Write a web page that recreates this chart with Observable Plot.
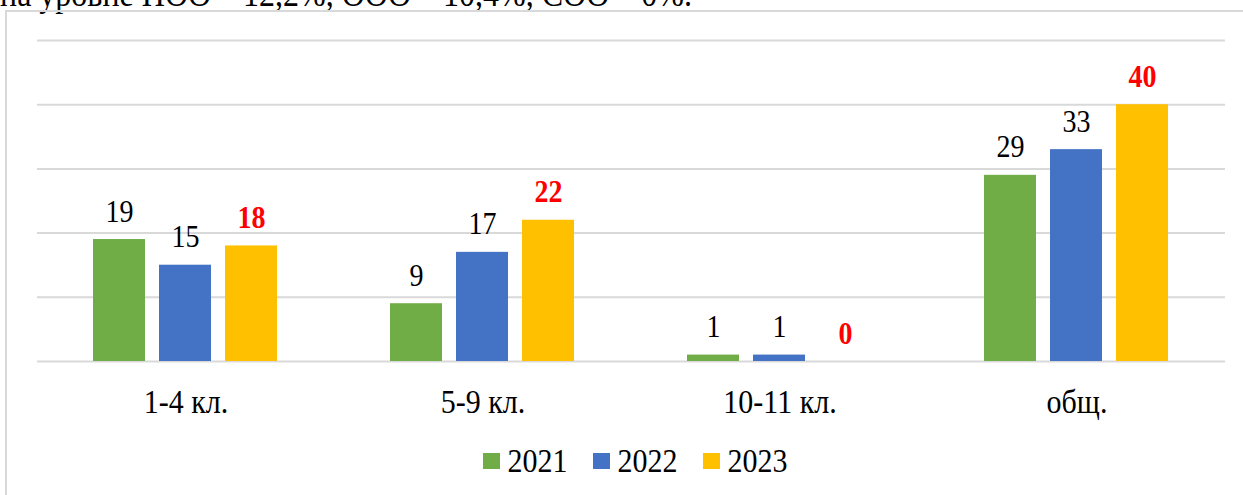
<!DOCTYPE html>
<html>
<head>
<meta charset="utf-8">
<script src="https://cdn.jsdelivr.net/npm/d3@7"></script>
<script src="https://cdn.jsdelivr.net/npm/@observablehq/plot@0.6"></script>
<style>
  html, body { margin: 0; padding: 0; background: #fff; overflow: hidden; }
  #wrap { position: relative; width: 1243px; height: 495px; overflow: hidden; font-family: "Liberation Serif", "Times New Roman", serif; }
  #lead { position: absolute; left: 0; top: -21px; font-size: 32px; line-height: 32px; white-space: nowrap; color: #000; transform: scaleY(1.14); transform-origin: 0 27px; }
  #frame { position: absolute; left: 5px; top: 10px; width: 1300px; height: 600px; border: 2px solid #d9d9d9; box-sizing: border-box; }
  #chart { position: absolute; left: 0; top: 0; }
  #legend { position: absolute; left: 0; top: 446px; width: 1270px; display: flex; justify-content: center; align-items: center; font-size: 30px; line-height: 30px; color: #000; }
  .item { display: flex; align-items: center; margin: 0 12.5px; }
  .sw { width: 17px; height: 16px; margin-right: 8px; }
  .lt { display: inline-block; transform: scaleY(1.14); }
</style>
</head>
<body>
<div id="wrap">
  <div id="lead">на уровне НОО – 12,2%, ООО – 10,4%, СОО – 0%.</div>
  <div id="frame"></div>
  <div id="chart"></div>
  <div id="legend"></div>
</div>
<script>
const categories = ["1-4 кл.", "5-9 кл.", "10-11 кл.", "общ."];
const years = ["2021", "2022", "2023"];
const values2021 = [19, 9, 1, 29];
const values2022 = [15, 17, 1, 33];
const values2023 = [18, 22, 0, 40];
const yTicks = [0, 10, 20, 30, 40, 50];
const colors = ["#70AD47", "#4472C4", "#FFC000"];
const highlightYear = "2023";

const series = [values2021, values2022, values2023];
const data = [];
categories.forEach((c, i) => {
  years.forEach((y, j) => data.push({category: c, year: y, value: series[j][i]}));
});

const chart = Plot.plot({
  width: 1243,
  height: 420,
  marginLeft: 37,
  marginRight: 18,
  marginTop: 40,
  marginBottom: 59,
  style: {fontFamily: "'Liberation Serif', 'Times New Roman', serif", color: "#000", background: "transparent"},
  fx: {domain: categories, padding: 0},
  x: {domain: years, paddingInner: 0.212, paddingOuter: 0.856, axis: null},
  y: {domain: [0, 50], axis: null},
  color: {domain: years, range: colors},
  marks: [
    Plot.ruleY(yTicks, {stroke: "#d9d9d9", strokeWidth: 2}),
    Plot.barY(data, {fx: "category", x: "year", y: "value", fill: "year"}),
    Plot.text(data.filter(d => d.year !== highlightYear), {
      fx: "category", x: "year", y: "value", text: d => String(d.value),
      lineAnchor: "bottom", dy: -18, fontSize: 28, fill: "#000"
    }),
    Plot.text(data.filter(d => d.year === highlightYear), {
      fx: "category", x: "year", y: "value", text: d => String(d.value),
      lineAnchor: "bottom", dy: -18, fontSize: 28, fontWeight: "bold", fill: "#FF0000"
    }),
    Plot.axisFx({anchor: "bottom", tickSize: 0, tickPadding: 27, fontSize: 30, label: null})
  ]
});
// the reference's text is drawn slightly taller than wide
chart.querySelectorAll("text").forEach(t => {
  const tr = t.getAttribute("transform");
  if (tr) t.setAttribute("transform", tr + " scale(1,1.14)");
});
document.getElementById("chart").appendChild(chart);

const legend = document.getElementById("legend");
years.forEach((y, j) => {
  const item = document.createElement("div");
  item.className = "item";
  const sw = document.createElement("div");
  sw.className = "sw";
  sw.style.background = colors[j];
  const t = document.createElement("span");
  t.className = "lt";
  t.textContent = y;
  item.appendChild(sw);
  item.appendChild(t);
  legend.appendChild(item);
});
</script>
</body>
</html>
